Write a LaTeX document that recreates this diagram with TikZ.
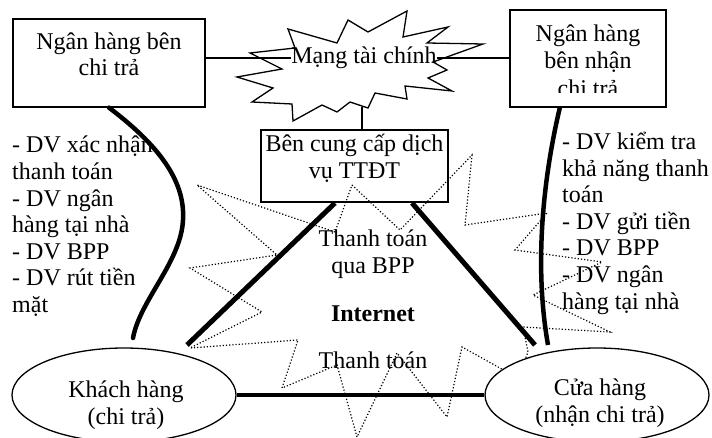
\documentclass[tikz,border=0pt]{standalone}
\usepackage{fontspec}
\setmainfont{Liberation Serif}
\usetikzlibrary{shapes.geometric}
\begin{document}
\begin{tikzpicture}[x=1pt,y=-1pt,
  thin/.style={line width=1.3pt},
  box/.style={draw, thin, rectangle, inner sep=0pt},
  txt/.style={align=center, font=\fontsize{24}{26.6}\selectfont, inner sep=0pt},
  ltxt/.style={align=left, font=\fontsize{24}{26.6}\selectfont, inner sep=0pt},
  oval/.style={draw, thin, ellipse, fill=white, minimum width=224pt, minimum height=94pt, inner sep=0pt},
  heavy/.style={line width=5pt},
  netline/.style={dotted, line width=1.2pt},
  ]
\useasboundingbox (0,0) rectangle (712,438);

% Internet (dotted burst)
\draw[netline] (352,185) -- (400,230) -- (472,155) -- (465,225) -- (547,213) -- (515,250)
  -- (602,262) -- (533,295) -- (610,332) -- (523,327) -- (528,352) -- (518,378)
  -- (462,347) -- (447,417) -- (397,353) -- (357,437) -- (337,365) -- (282,388)
  -- (298,340) -- (190,348) -- (262,312) -- (190,268) -- (277,255) -- (197,185)
  -- (335,232) -- cycle;

% Financial network (solid burst)
\draw[thin, line join=miter] (288,29) -- (337,43) -- (348,20) -- (368,32) -- (407,11) -- (403,37)
  -- (448,27) -- (427,43) -- (483,44) -- (433,62) -- (447,70) -- (428,78) -- (452,91)
  -- (405,86) -- (407,99) -- (375,93) -- (368,108) -- (350,102) -- (337,112) -- (322,105)
  -- (293,121) -- (292,104) -- (252,102) -- (273,88) -- (237,77) -- (282,69) -- (250,53)
  -- (295,48) -- cycle;
\node[txt] (mang) at (364,58) {Mạng tài chính};

% Boxes
\node[box, minimum width=192pt, minimum height=88pt] (b1) at (109,63) {};
\node[txt, anchor=north] (b1t) at (109,32.5) {Ngân hàng bên\\chi trả};

\node[box, minimum width=156pt, minimum height=97pt] (b2) at (588,58.5) {};
\begin{scope}
  \clip (510,10) rectangle (666,93);
  \node[txt, anchor=north, font=\fontsize{24}{27.5}\selectfont] (b2t) at (588,24.5) {Ngân hàng\\bên nhận\\chi trả};
\end{scope}

\node[box, minimum width=187pt, minimum height=72pt] (b3) at (354.5,166) {};
\node[txt, anchor=north] (b3t) at (354.5,134) {Bên cung cấp dịch\\vụ TTĐT};

% thin connectors
\draw[thin] (mang.west -| b1.east) -- (mang.west);
\draw[thin] (mang.east) -- (mang.east -| b2.west);
\coordinate (sb) at (362,107);
\draw[thin] (sb) -- (sb |- b3.north);

% diagonal links from the payment provider
\coordinate (k1) at (335,203);
\coordinate (k2) at (187,345);
\coordinate (c1) at (412,203);
\coordinate (c2) at (535,345);
\draw[heavy] (k1) -- (k2);
\draw[heavy] (c1) -- (c2);

% Ellipses
\node[oval] (kh) at (124,395) {};
\node[oval] (ch) at (597,395) {};
\node[txt] (kht) at (126,405) {Khách hàng\\(chi trả)};
\node[txt] (cht) at (600,403) {Cửa hàng\\(nhận chi trả)};
\draw[line width=4.5pt] (kh.east) -- (ch.west);

% curved links bank - party
\coordinate (lc) at (133,338);
\draw[line width=4.5pt, line cap=round] (b1.south) .. controls (165,150) and (185,185) .. (183,220)
  .. controls (181,262) and (140,300) .. (lc);
\coordinate (rs) at (560,107);
\coordinate (rc) at (548,345);
\draw[line width=4.5pt] (rs) .. controls (545,170) and (533,260) .. (rc);

% service lists
\node[ltxt, anchor=north west] (lsv) at (12,136) {- DV xác nhận\\thanh toán\\- DV ngân\\hàng tại nhà\\- DV BPP\\- DV rút tiền\\mặt};
\node[ltxt, anchor=north west] (rsv) at (562,132) {- DV kiểm tra\\khả năng thanh\\toán\\- DV gửi tiền\\- DV BPP\\- DV ngân\\hàng tại nhà};

% middle labels
\node[txt, anchor=north] (tt1) at (373,230) {Thanh toán\\qua BPP};
\node[txt, anchor=base, font=\fontsize{24}{26.6}\selectfont\bfseries] (inet) at (373,321) {Internet};
\node[txt, anchor=base] (tt2) at (373,368) {Thanh toán};
\end{tikzpicture}
\end{document}
